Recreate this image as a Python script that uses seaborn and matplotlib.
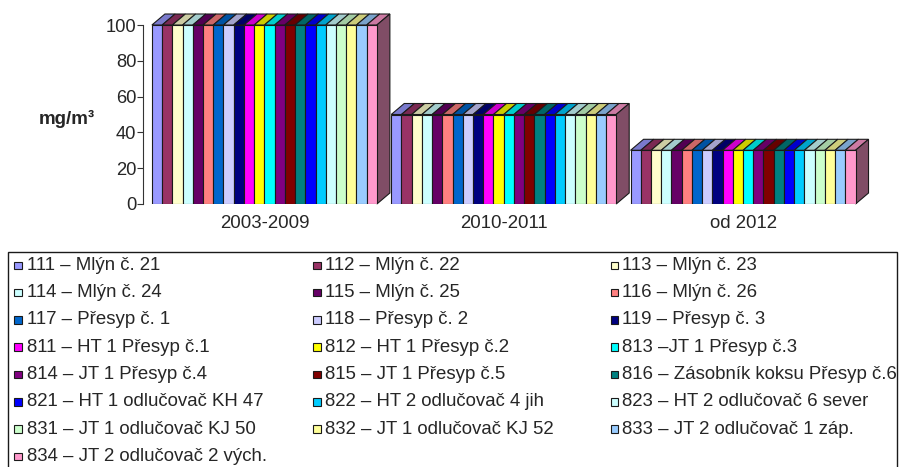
import matplotlib
matplotlib.use("Agg")
import matplotlib.pyplot as plt
import seaborn as sns
import pandas as pd
import numpy as np
from matplotlib.patches import Polygon, Rectangle

# ---------------- data ----------------
periods = ["2003-2009", "2010-2011", "od 2012"]
limit_values = [100, 50, 30]          # mg/m3, same limit for each emission source
series = [
    "111 – Mlýn č. 21", "112 – Mlýn č. 22", "113 – Mlýn č. 23",
    "114 – Mlýn č. 24", "115 – Mlýn č. 25", "116 – Mlýn č. 26",
    "117 – Přesyp č. 1", "118 – Přesyp č. 2", "119 – Přesyp č. 3",
    "811 – HT 1 Přesyp č.1", "812 – HT 1 Přesyp č.2", "813 –JT 1 Přesyp č.3",
    "814 – JT 1 Přesyp č.4", "815 – JT 1 Přesyp č.5", "816 – Zásobník koksu Přesyp č.6",
    "821 – HT 1 odlučovač KH 47", "822 – HT 2 odlučovač 4 jih", "823 – HT 2 odlučovač 6 sever",
    "831 – JT 1 odlučovač KJ 50", "832 – JT 1 odlučovač KJ 52", "833 – JT 2 odlučovač 1 záp.",
    "834 – JT 2 odlučovač 2 vých.",
]
colors = [
    "#9999FF", "#993366", "#FFFFCC", "#CCFFFF", "#660066", "#FF8080",
    "#0066CC", "#CCCCFF", "#000080", "#FF00FF", "#FFFF00", "#00FFFF",
    "#800080", "#800000", "#008080", "#0000FF", "#00CCFF", "#CCFFFF",
    "#CCFFCC", "#FFFF99", "#99CCFF", "#FF99CC",
]
yticks = [0, 20, 40, 60, 80, 100]
ylabel = "mg/m³"

rows = []
for s in series:
    for p, v in zip(periods, limit_values):
        rows.append({"period": p, "series": s, "value": v})
df = pd.DataFrame(rows)

# ---------------- figure ----------------
W, H = 903, 467
sns.set_theme(style="white")
plt.rcParams["font.family"] = ["Liberation Sans", "DejaVu Sans"]

fig = plt.figure(figsize=(W / 100, H / 100), dpi=100)

def fx(px):
    return px / W

def fy(py):
    return 1 - py / H

ax_left, ax_right = 143.3, 862.7
ax_top, ax_bottom = 25.0, 204.0
ax = fig.add_axes([fx(ax_left), fy(ax_bottom), fx(ax_right - ax_left), (ax_bottom - ax_top) / H])

sns.barplot(data=df, x="period", y="value", hue="series", hue_order=series,
            palette=colors, saturation=1, width=0.94, dodge=True,
            edgecolor="#1a1a1a", linewidth=0.8, legend=False, ax=ax, zorder=3)

ax.set_ylim(0, 100)
ax.set_xlim(-0.506, 2.5)
ax.set_yticks(yticks)
ax.set_yticklabels([str(t) for t in yticks], fontsize=13.2)
ax.set_xlabel("")
ax.set_ylabel("")
ax.tick_params(axis="x", length=0, pad=8, labelsize=13.4)
ax.tick_params(axis="y", left=True, length=4, width=0.8, color="#333333", pad=1)
for sp in ["top", "right", "bottom"]:
    ax.spines[sp].set_visible(False)
ax.spines["left"].set_color("#333333")
ax.spines["left"].set_linewidth(0.8)
ax.grid(False)

# ---------- 3D effect (top faces and side face) from drawn bars ----------
px_per_x = (ax_right - ax_left) / (2.5 + 0.506)
px_per_y = (ax_bottom - ax_top) / 100.0
ddx = 13.0 / px_per_x
ddy = 11.0 / px_per_y

bars = [p for p in ax.patches if isinstance(p, matplotlib.patches.Rectangle) and p.get_height() > 0]
def shade(c, f):
    r, g, b, a = matplotlib.colors.to_rgba(c)
    return (r * f, g * f, b * f)

last_in_group = {}
for b in bars:
    grp = int(round(b.get_x() + b.get_width() / 2))
    if grp not in last_in_group or b.get_x() > last_in_group[grp].get_x():
        last_in_group[grp] = b

for b in sorted(bars, key=lambda r: r.get_x()):
    x0, w, h = b.get_x(), b.get_width(), b.get_height()
    fc = b.get_facecolor()
    top = Polygon([(x0, h), (x0 + w, h), (x0 + w + ddx, h + ddy), (x0 + ddx, h + ddy)],
                  closed=True, facecolor=shade(fc, 0.8), edgecolor="#1a1a1a",
                  linewidth=0.8, clip_on=False, zorder=2.5)
    ax.add_patch(top)
for grp, b in last_in_group.items():
    x0, w, h = b.get_x(), b.get_width(), b.get_height()
    fc = b.get_facecolor()
    side = Polygon([(x0 + w, 0), (x0 + w + ddx, ddy), (x0 + w + ddx, h + ddy), (x0 + w, h)],
                   closed=True, facecolor=shade(fc, 0.5), edgecolor="#1a1a1a",
                   linewidth=0.8, clip_on=False, zorder=2.5)
    ax.add_patch(side)

# y label
fig.text(fx(66.5), fy(119), ylabel, fontsize=13.5, fontweight="bold", ha="center", va="center")

# ---------------- legend (manual, row-major, 3 columns) ----------------
fig.patches.append(Rectangle((fx(7.5), fy(480)), fx(897 - 7.5), (480 - 252) / H,
                             transform=fig.transFigure, fill=False,
                             edgecolor="#1a1a1a", linewidth=1.0, clip_on=False))
col_sq = [14.5, 313.5, 610.5]
col_tx = [27.0, 325.0, 622.0]
row0, drow = 265.3, 27.3
sq = 7.5
for i, (name, c) in enumerate(zip(series, colors)):
    r, cidx = divmod(i, 3)
    yc = row0 + r * drow
    fig.patches.append(Rectangle((fx(col_sq[cidx]), fy(yc + sq / 2)), fx(sq), sq / H,
                                 transform=fig.transFigure, facecolor=c,
                                 edgecolor="#1a1a1a", linewidth=0.8))
    fig.text(fx(col_tx[cidx]), fy(yc), name, fontsize=13.4, ha="left", va="center")

fig.savefig("out.png", dpi=100)
